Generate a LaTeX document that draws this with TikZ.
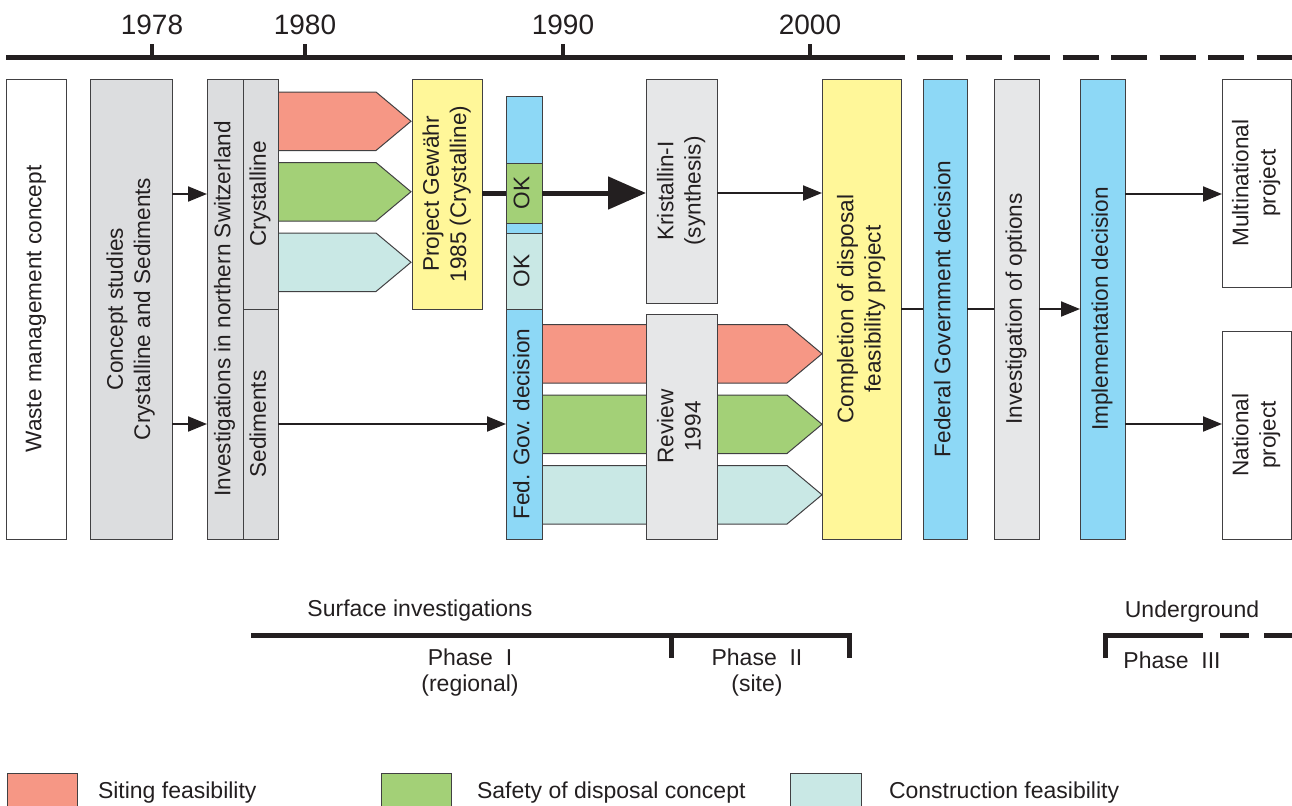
\documentclass[tikz,border=0pt]{standalone}
\usepackage{fontspec}
\setmainfont{Liberation Sans}
\usetikzlibrary{
    arrows.meta,
    fit,
    positioning
}
\definecolor{ink}{RGB}{35,31,32}
\definecolor{frame}{RGB}{65,64,66}
\definecolor{siting}{RGB}{246,151,133}
\definecolor{safety}{RGB}{163,208,119}
\definecolor{constr}{RGB}{201,232,229}
\definecolor{sky}{RGB}{141,216,246}
\definecolor{sun}{RGB}{255,247,153}
\definecolor{pale}{RGB}{230,231,232}
\definecolor{stone}{RGB}{220,221,223}
\newcommand{\boxfont}{\fontsize{11.3}{13.6}\selectfont}
\newcommand{\notefont}{\fontsize{11.5}{13}\selectfont}
\newcommand{\yearfont}{\fontsize{14}{16}\selectfont}
\newcommand{\vtext}[1]{\rotatebox{90}{\boxfont\begin{tabular}{@{}c@{}}#1\end{tabular}}}
\tikzset{
    every picture/.style = {
        > = {Triangle[length = 9.5pt, width = 7.5pt]},
        line width = 1pt,
        color = ink
    },
    every node/.style = {
        inner sep = 1pt
    },
    note/.style = {
        align = center
    },
    box/.style = {
        draw = frame,
        line width = 0.5pt,
        fill = #1,
        inner sep = 0pt,
        outer sep = 0pt
    },
    box/.default = white,
    vlabel/.style = {
        label = {center:\vtext{#1}}
    },
    band/.style = {
        draw = frame,
        line width = 0.5pt,
        fill = #1
    },
    axis/.style = {line width = 2.5pt},
    tick/.style = {line width = 2pt},
    heavy/.style = {line width = 2.5pt}
}

\begin{document}
\begin{tikzpicture}[x = 0.5pt, y = -0.5pt, node font = \notefont]
        \useasboundingbox (0,0) rectangle (1292,805);

        \draw[axis] (6,57) -- (905,57);
        \draw[axis, dash pattern = on 18pt off 6.25pt] (917,57) -- (1292,57);
        \foreach \yr/\x in {1978/152, 1980/305, 1990/563, 2000/810} {
            \draw[tick] (\x,57) -- (\x,44);
            \node[font = \yearfont] (y\yr) at (\x,25) {\yr};
        }

        \foreach \c [count = \i from 0] in {siting, safety, constr} {
            \draw[band = \c] (278,{92 + 70.5*\i}) -- ++(98,0) -- ++(35,29.25) -- ++(-35,29.25) -- ++(-98,0);
            \draw[band = \c] (542,{324.5 + 70.5*\i}) -- ++(245,0) -- ++(35,29.25) -- ++(-35,29.25) -- ++(-245,0);
        }

        \node[box, fit = {(6,79) (66,539)}, vlabel = {Waste management concept}] (waste) {};
        \node[box = stone, fit = {(90,79) (172,539)}, vlabel = {Concept studies\\Crystalline and Sediments}] (concept) {};
        \node[box = stone, fit = {(207,79) (243,539)}, vlabel = {Investigations in northern Switzerland}] (inv) {};
        \node[box = stone, fit = {(243,79) (278,309)}, vlabel = {Crystalline}] (crys) {};
        \node[box = stone, fit = {(243,309) (278,539)}, vlabel = {Sediments}] (sed) {};
        \node[box = sun, fit = {(412,79) (482,309)}, vlabel = {Project Gewähr\\1985 (Crystalline)}] (gew) {};
        \node[box = sky, fit = {(506,96) (542,539)}] (fed) {};
        \node[box = safety, fit = {(506,163) (542,223)}, vlabel = {OK}] (okA) {};
        \node[box = constr, fit = {(506,233) (542,309)}, vlabel = {OK}] (okB) {};
        \node (feddec) at (fed.center |- sed) {\vtext{Fed. Gov. decision}};
        \node[box = pale, fit = {(646,79) (717,303)}, vlabel = {Kristallin-I\\(synthesis)}] (krist) {};
        \node[box = pale, fit = {(646,314) (717,539)}, vlabel = {Review\\1994}] (review) {};
        \node[box = sun, fit = {(822,79) (901,539)}, vlabel = {Completion of disposal\\feasibility project}] (compl) {};
        \node[box = sky, fit = {(923,79) (967,539)}, vlabel = {Federal Government decision}] (fedgov) {};
        \node[box = pale, fit = {(994,79) (1039,539)}, vlabel = {Investigation of options}] (options) {};
        \node[box = sky, fit = {(1080,79) (1125,539)}, vlabel = {Implementation decision}] (impl) {};
        \node[box, fit = {(1222,79) (1291,287)}, vlabel = {Multinational\\project}] (multi) {};
        \node[box, fit = {(1222,331) (1291,539)}, vlabel = {National\\project}] (nat) {};

        \path[->] (concept.east |- crys) edge (inv.west |- crys);
        \path[->] (concept.east |- sed) edge (inv.west |- sed);
        \path[->] (sed.east) edge (fed.west |- sed);
        \draw[heavy] (gew.east |- okA) -- (okA.west);
        \draw[heavy, -{Triangle[length = 19pt, width = 16pt]}] (okA.east) -- (krist.west |- okA);
        \path[->] (krist.east |- okA) edge (compl.west |- okA);
        \path (compl) edge (fedgov);
        \path (fedgov) edge (options);
        \path[->] (options) edge (impl);
        \path[->] (impl.east |- crys) edge (multi.west |- crys);
        \path[->] (impl.east |- sed) edge (nat.west |- sed);

        \draw[axis] (251,635) -- (849,635) -- (849,658);
        \draw[axis] (671,635) -- (671,658);
        \draw[axis] (1105,658) -- (1105,635) -- (1203,635);
        \draw[axis, dash pattern = on 14.5pt off 7.5pt] (1220,635) -- (1292,635);
        \node (surf) at (420,611) {Surface investigations};
        \node[note] (ph1) at (470,673) {Phase~~I\\(regional)};
        \node[note] (ph2) at (757,673) {Phase~~II\\(site)};
        \node (under) at (1192,612) {Underground};
        \node (ph3) at (1172,660) {Phase~~III};

        \node[box = siting, fit = {(7,773) (77,812)}] (legS) {};
        \node[box = safety, fit = {(381,773) (451,812)}] (legA) {};
        \node[box = constr, fit = {(790,773) (861,812)}] (legC) {};
        \node[right = 9pt of legS] (txtS) {Siting feasibility};
        \node[right = 11.5pt of legA] (txtA) {Safety of disposal concept};
        \node[right = 12.5pt of legC] (txtC) {Construction feasibility};
\end{tikzpicture}
\end{document}
